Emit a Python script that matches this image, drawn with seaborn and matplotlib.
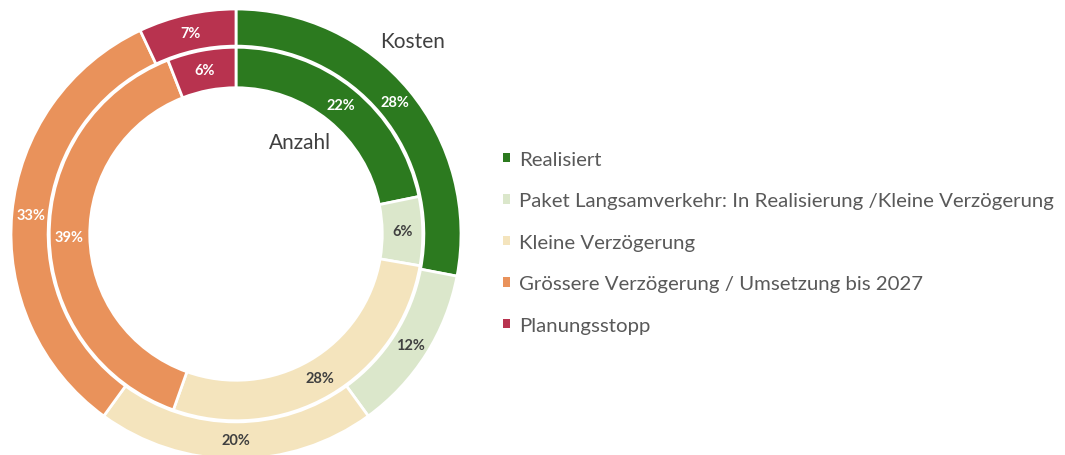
import matplotlib
matplotlib.use("Agg")
import matplotlib.pyplot as plt
import seaborn as sns
from matplotlib.patches import Patch

categories = ["Realisiert",
              "Paket Langsamverkehr: In Realisierung /Kleine Verzögerung",
              "Kleine Verzögerung",
              "Grössere Verzögerung / Umsetzung bis 2027",
              "Planungsstopp"]
kosten = [28, 12, 20, 33, 7]
anzahl = [22, 6, 28, 39, 6]
colors = ["#2c7a1f", "#dbe7cb", "#f4e4bd", "#e9925b", "#b8334f"]
label_colors = ["white", "#404040", "#404040", "white", "white"]

sns.set_theme(style="white")
plt.rcParams["font.family"] = ["Lato", "DejaVu Sans"]

fig = plt.figure(figsize=(10.65, 4.56), dpi=100)
W, H = 1065, 456
cx, cy, R = 236, 235, 225
ax = fig.add_axes([(cx - R) / W, (H - cy - R) / H, 2 * R / W, 2 * R / H])

wp = dict(edgecolor="white", linewidth=2)
w1, t1, a1 = ax.pie(kosten, radius=1.0, colors=colors, startangle=90, counterclock=False,
                    wedgeprops=dict(width=0.165, **wp), autopct="%.0f%%", pctdistance=0.917,
                    textprops=dict(fontsize=10.5, fontweight="bold"))
r2 = 0.83
w2, t2, a2 = ax.pie(anzahl, radius=r2, colors=colors, startangle=90, counterclock=False,
                    wedgeprops=dict(width=0.18, **wp), autopct="%.0f%%", pctdistance=0.74 / r2,
                    textprops=dict(fontsize=10.5, fontweight="bold"))
for t, c in zip(a1, label_colors):
    t.set_color(c)
for t, c in zip(a2, label_colors):
    t.set_color(c)
ax.set_xlim(-1, 1)
ax.set_ylim(-1, 1)
ax.set_aspect("equal")
ax.axis("off")

fig.text(413 / W, 1 - 42 / H, "Kosten", fontsize=15, color="#404040", ha="center", va="center")
fig.text(300 / W, 1 - 143 / H, "Anzahl", fontsize=15, color="#404040", ha="center", va="center")

handles = [Patch(facecolor=c, edgecolor="none") for c in colors]
leg = fig.legend(handles, categories, loc="upper left", bbox_to_anchor=(503 / W, 1 - 152 / H),
                 frameon=False, fontsize=14.7, handlelength=0.35, handleheight=0.35,
                 handletextpad=0.45, labelspacing=1.2, borderaxespad=0, borderpad=0)
for txt in leg.get_texts():
    txt.set_color("#595959")

fig.savefig("out.png", dpi=100)
